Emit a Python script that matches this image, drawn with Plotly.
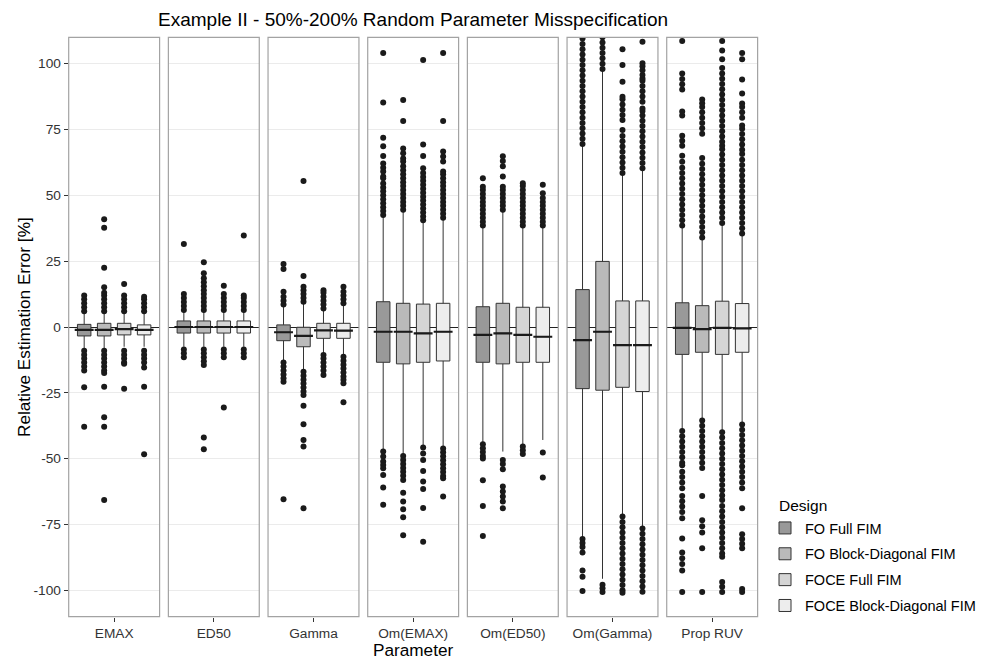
import plotly.graph_objects as go

# ---------------- data ----------------
params = ["EMAX", "ED50", "Gamma", "Om(EMAX)", "Om(ED50)", "Om(Gamma)", "Prop RUV"]
designs = ["FO Full FIM", "FO Block-Diagonal FIM", "FOCE Full FIM", "FOCE Block-Diagonal FIM"]
fills = ["#999999", "#BABABA", "#D5D5D5", "#EDEDED"]

q1 = [
    [-3.4, -3.4, -3.0, -3.0],
    [-2.3, -2.3, -2.3, -2.3],
    [-5.2, -7.5, -4.3, -4.3],
    [-13.4, -14.0, -13.4, -12.9],
    [-13.4, -14.0, -13.4, -13.4],
    [-23.4, -24.0, -22.9, -24.5],
    [-10.4, -9.6, -10.4, -9.6],
]
median = [
    [-1.1, -1.1, -0.8, -1.1],
    [0.0, 0.0, 0.0, 0.0],
    [-2.0, -3.4, -1.3, -1.4],
    [-1.8, -1.8, -2.4, -1.8],
    [-3.0, -2.4, -3.0, -3.7],
    [-5.0, -1.8, -6.9, -6.9],
    [-0.3, -0.8, -0.3, -0.5],
]
q3 = [
    [1.0, 1.4, 1.4, 0.8],
    [2.3, 2.3, 2.3, 2.3],
    [0.8, -0.1, 1.4, 1.4],
    [9.6, 9.0, 8.7, 9.0],
    [7.7, 9.0, 7.5, 7.5],
    [14.2, 24.9, 9.9, 9.9],
    [9.2, 8.1, 9.8, 8.9],
]
whisker_low = [
    [-8.0, -8.0, -7.5, -7.5],
    [-7.5, -7.5, -7.5, -7.5],
    [-13.0, -16.5, -10.5, -11.0],
    [-46.7, -48.6, -45.4, -46.1],
    [-44.2, -47.3, -44.8, -42.9],
    [-80.3, -95.6, -71.9, -76.5],
    [-39.0, -35.2, -39.8, -36.7],
]
whisker_high = [
    [5.5, 5.5, 5.5, 5.0],
    [6.0, 6.0, 6.0, 6.0],
    [8.0, 9.0, 6.5, 8.5],
    [41.9, 43.8, 40.0, 40.9],
    [38.1, 43.8, 38.1, 37.9],
    [69.5, 97.9, 58.4, 60.3],
    [38.2, 33.6, 39.0, 35.2],
]

outliers_emax = [
    [6, 7.5, 9, 10.5, 12, -9, -10.5, -12, -13.5, -15, -16.5, -22.9, -37.9],
    [6, 7.5, 9, 10.5, 12, 13, 15.1, 22.5, 37.7, 40.9, -9, -10.5, -12, -13.5, -15, -16.5, -17.5,
     -22.7, -34.3, -37.9, -65.7],
    [6, 7.5, 9, 10.5, 12, 16.3, -9, -10.5, -12, -13.5, -14, -23.4],
    [6, 7.5, 9, 10.5, 11.5, -9, -10.5, -12, -13.5, -15.4, -22.7, -48.3],
]
outliers_ed50 = [
    [6.5, 8, 9.5, 11, 12.5, 31.5, -8.5, -10, -11.5],
    [6.5, 8, 9.5, 11, 12.5, 14, 15.5, 17, 18.5, 20.4, 24.6, -8.5, -10, -11.5, -13, -14.4, -42, -46.4],
    [6.5, 8, 9.5, 11, 12.5, 15.7, -8.5, -10, -11.5, -30.6],
    [6.5, 8, 9.5, 11, 12, 34.7, -8.5, -10, -11.5],
]
outliers_gamma = [
    [8.5, 10, 11.5, 13.4, 22.0, 23.9, -13.5, -15, -16.5, -18, -19.5, -20.8, -65.4],
    [9.6, 11, 12.5, 14, 15.3, 19.4, 55.4, -17, -18.5, -20, -21.5, -23, -24.5, -25.8,
     -29.9, -36.9, -42.9, -45.4, -68.8],
    [7, 8.5, 10, 11.5, 13, 14, -10.6, -12, -13.5, -15, -16.5, -18.2],
    [9, 10.5, 12, 13.4, 15.3, -11.3, -12.8, -14.3, -15.8, -17.3, -18.8, -20, -21.4, -28.6],
]
outliers_om_emax = [
    [42.5, 44, 45.5, 47, 48.5, 50, 51.5, 53, 54.5, 56.5, 57.1, 59, 60.5, 62.1, 64.9, 68.6, 71.9,
     85.2, 104, -47.3, -49.2, -51.1, -52.4, -53.6, -56.2, -60.9, -67.5],
    [44.5, 46, 47.5, 49, 50.5, 52, 53.5, 55, 56.5, 58, 59.5, 61, 62.8, 64, 66, 67.8, 78.2, 86.2,
     -49, -50.5, -52, -53.5, -55, -56.5, -58.1, -62.9, -66.3, -69.2, -72.2, -79.1],
    [40.5, 42, 43.5, 45, 46.5, 48, 49.5, 51, 52.5, 54, 55.5, 57, 58.5, 60.3, 64.9, 69.3, 101.4,
     -45.8, -48, -50.5, -54.7, -58.7, -61.5, -68.7, -81.5],
    [41.5, 43, 44.5, 46, 47.5, 49, 50.5, 52, 53.5, 55, 56.5, 58, 59, 62.8, 64.7, 66.6, 78.2, 104,
     -46.1, -47.6, -49.1, -50.6, -52.1, -53.6, -55.1, -56.6, -57.4, -64.4],
]
outliers_om_ed50 = [
    [38.5, 40, 41.5, 43, 44.5, 46, 47.5, 49, 50.5, 52, 53.3, 56.5,
     -44.5, -46, -47.5, -49, -49.9, -58.2, -68, -79.4],
    [44.5, 46, 47.5, 49, 50.5, 52, 53.3, 57.1, 61, 63, 64.8,
     -50.5, -52, -54, -60.6, -62.5, -64.4, -66.3, -68.8],
    [38.5, 40, 41.5, 43, 44.5, 46, 47.5, 49, 50.5, 52, 53.5, 54.6, -45.4, -46.8, -48.2],
    [38.5, 40, 41.5, 43, 44.5, 46, 47.5, 49, 50.8, 54, -47.7, -57.1],
]
outliers_om_gamma = [
    [69.5, 71.5, 73.5, 75.5, 77.5, 79.5, 81.5, 83.5, 85.5, 87.5, 89.5, 91.5, 93.5, 95.5, 97.5,
     99.5, 101.5, 103.5, 105.5, 107.5, 109.5, 111.5,
     -80.5, -82, -83.5, -85.6, -92.5, -94.8, -100.2],
    [98, 100, 102, 104, 106, 108, 110, 112, -97.9, -99.2, -100.6],
    [58.5, 60.5, 62.5, 64.5, 66.5, 68.5, 70.5, 72.5, 74.8, 78.6, 80.5, 82.5, 84.5, 86.5, 87.4,
     93.1, 99.5, 105.5,
     -72, -74, -76, -78, -80, -82, -84, -86, -88, -90, -92, -94, -96, -98, -100, -100.9],
    [60.3, 62.3, 64.3, 66.3, 68.3, 70.3, 72.3, 74.3, 76.3, 78.3, 80.3, 82, 83, 85.5, 87.5, 89.5,
     91.5, 93.5, 94.4, 95.7, 97.5, 99, 100.1, 108.3,
     -76.5, -78.5, -80.5, -82.5, -84.5, -86.5, -88.5, -90.5, -92.5, -94.5, -96.5, -98.5, -100.5],
]
outliers_prop_ruv = [
    [38.5, 40.5, 42.5, 44.5, 46.5, 48.5, 50.5, 52.5, 54.5, 56.5, 58.5, 60.5, 62.7, 65, 68.8,
     70.7, 72.6, 80.3, 81.8, 90.2, 92.2, 94.2, 96.3, 108.6,
     -39.5, -41.5, -43.5, -45.5, -47.5, -49.5, -51.5, -52.5, -55, -57, -59, -61.2, -64.2, -66.2,
     -68.2, -70.2, -72.6, -80.3, -85.6, -87.8, -90, -92.5, -100.6],
    [34, 36, 38, 40, 42, 44, 46, 48, 50, 52, 54, 56, 58, 60, 62, 64.2, 73.4, 75.5, 77.5, 79.5,
     81.5, 83.5, 85, 86.4,
     -35.5, -37.5, -39.5, -41.5, -43.5, -45.5, -47.5, -49.5, -51.5, -53.5, -64.2, -73.4, -75.7,
     -78, -84, -100.6],
    [39.5, 41.5, 43.5, 45.5, 47.5, 49.5, 51.5, 53.5, 55.5, 57.5, 59.5, 61.5, 63.5, 65.5, 67.5,
     68.8, 70.3, 72.3, 74.3, 76.3, 78.3, 80.3, 82.3, 84.3, 86.3, 88.3, 90.3, 92.3, 94.3, 96.3,
     98.3, 101.7, 105, 108.6,
     -40, -42, -44, -46, -48, -50, -52, -54, -56, -58, -60, -62, -64, -65.7, -68, -70, -72, -74,
     -76, -78, -80, -82, -84, -86, -87.2, -96.8, -98.6, -100.6],
    [35.5, 37.5, 39.5, 41.5, 43.5, 45.5, 47.5, 49.5, 51.5, 53.5, 55.5, 57.5, 59.5, 61.5, 63.5,
     65.7, 67.3, 69.3, 71.3, 73.3, 75.3, 76.5, 79.5, 81.5, 83.5, 84.9, 88.7, 94, 101.7, 104,
     -37, -39, -41, -43, -45, -47, -49, -51, -53, -55, -57, -59, -61.2, -68.8, -78.7, -80.5,
     -82.3, -84, -99.5, -100.6],
]
outliers = [outliers_emax, outliers_ed50, outliers_gamma, outliers_om_emax,
            outliers_om_ed50, outliers_om_gamma, outliers_prop_ruv]

y_ticks = [-100, -75, -50, -25, 0, 25, 50, 75, 100]
y_tick_labels = ["-100", "-75", "-50", "-25", "0", "25", "50", "75", "100"]

# ---------------- layout geometry ----------------
W, H = 987, 661
FONT = "Liberation Sans, Arial, Helvetica, sans-serif"
left0, step, pw = 68.7, 99.67, 90.9
ytop, ybot = 37.3, 616.7
ydom = [1 - ybot / H, 1 - ytop / H]
positions = [1, 2, 3, 4]
xr = [0.225, 4.775]

fig = go.Figure()
layout = {}
shapes = []

for i, p in enumerate(params):
    k = i + 1
    xa = "x" if k == 1 else f"x{k}"
    xkey = "xaxis" if k == 1 else f"xaxis{k}"
    x0 = (left0 + i * step) / W
    x1 = (left0 + i * step + pw) / W
    layout[xkey] = dict(
        domain=[x0, x1], anchor="y", range=xr, tickvals=[2.5], ticktext=[p],
        ticks="outside", ticklen=4, tickwidth=1, tickcolor="#333333",
        showgrid=False, zeroline=False, showline=False, fixedrange=True,
        tickfont=dict(family=FONT, size=13.7, color="#333333"),
    )
    # panel border
    shapes.append(dict(type="rect", xref="paper", yref="paper", x0=x0, x1=x1,
                       y0=ydom[0], y1=ydom[1],
                       line=dict(color="#a3a3a3", width=1.2), fillcolor="rgba(0,0,0,0)",
                       layer="above"))

    for j, d in enumerate(designs):
        fig.add_trace(go.Box(
            x=[positions[j]], q1=[q1[i][j]], median=[median[i][j]], q3=[q3[i][j]],
            lowerfence=[whisker_low[i][j]], upperfence=[whisker_high[i][j]],
            name=d, legendgroup=d, showlegend=(i == 0),
            fillcolor=fills[j], line=dict(color="#333333", width=1),
            whiskerwidth=0, width=0.675, boxpoints=False,
            xaxis=xa, yaxis="y", hoverinfo="skip",
        ))
    # thicker median bars
    fig.add_trace(go.Scatter(
        x=positions, y=median[i], mode="markers", xaxis=xa, yaxis="y",
        marker=dict(symbol="line-ew", size=13.5, color="#1a1a1a",
                    line=dict(width=2.2, color="#1a1a1a")),
        showlegend=False, hoverinfo="skip",
    ))
    # outliers
    ox, oy = [], []
    for j in range(len(designs)):
        ox += [positions[j]] * len(outliers[i][j])
        oy += outliers[i][j]
    fig.add_trace(go.Scatter(
        x=ox, y=oy, mode="markers", xaxis=xa, yaxis="y",
        marker=dict(size=6, color="#1a1a1a", line=dict(width=0)),
        showlegend=False, hoverinfo="skip",
    ))

layout["yaxis"] = dict(
    domain=ydom, anchor="x", range=[-110, 110], tickvals=y_ticks, ticktext=y_tick_labels,
    ticks="outside", ticklen=4, tickwidth=1, tickcolor="#333333",
    showgrid=True, gridcolor="#ebebeb", gridwidth=1,
    zeroline=True, zerolinecolor="#222222", zerolinewidth=1, showline=False,
    fixedrange=True, tickfont=dict(family=FONT, size=13.7, color="#333333"),
)

annotations = [
    dict(text="Example II - 50%-200% Random Parameter Misspecification", x=413 / W,
         y=1 - 20 / H, xref="paper", yref="paper", showarrow=False, xanchor="center",
         yanchor="middle", font=dict(family=FONT, size=19, color="#000000")),
    dict(text="Relative Estimation Error [%]", x=24 / W, y=1 - 327 / H, xref="paper",
         yref="paper", showarrow=False, textangle=-90, xanchor="center", yanchor="middle",
         font=dict(family=FONT, size=17.2, color="#000000")),
    dict(text="Parameter", x=413 / W, y=1 - 650 / H, xref="paper", yref="paper",
         showarrow=False, xanchor="center", yanchor="middle",
         font=dict(family=FONT, size=17.2, color="#000000")),
    dict(text="Design", x=777 / W, y=1 - 505 / H, xref="paper", yref="paper",
         showarrow=False, xanchor="left", yanchor="middle",
         font=dict(family=FONT, size=15.5, color="#000000")),
]

fig.update_layout(
    width=W, height=H, autosize=False,
    margin=dict(l=0, r=0, t=0, b=0, pad=0),
    paper_bgcolor="white", plot_bgcolor="white",
    font=dict(family=FONT, size=13, color="#000000"),
    shapes=shapes, annotations=annotations,
    legend=dict(
        x=765 / W, y=1 - 512 / H, xanchor="left", yanchor="top",
        font=dict(family=FONT, size=14.5, color="#000000"),
        traceorder="grouped", tracegroupgap=4, bgcolor="rgba(0,0,0,0)",
    ),
    **layout,
)

fig.write_html("out.html", config={"displayModeBar": False})
